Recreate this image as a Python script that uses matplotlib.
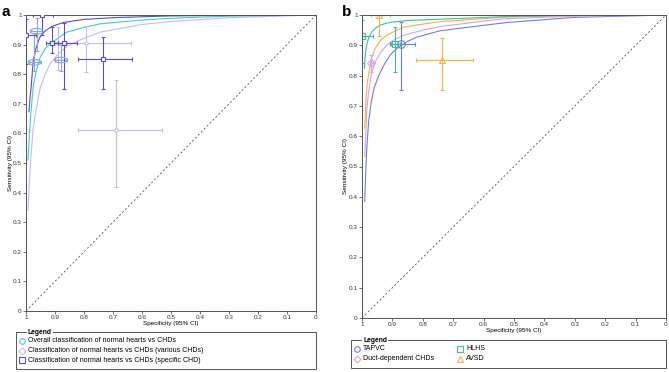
import matplotlib
matplotlib.use('Agg')
import matplotlib.pyplot as plt
from matplotlib.patches import Ellipse, Rectangle
from matplotlib.lines import Line2D

plt.rcParams['font.family'] = ['Liberation Sans', 'DejaVu Sans']

W, H = 669, 372

# ---- panel a: summary curves (specificity, sensitivity)
overall_curve_spec = [0.993, 0.988, 0.984, 0.975, 0.965, 0.952, 0.935, 0.915, 0.885, 0.86,
                      0.80, 0.745, 0.60, 0.50, 0.30, 0.0]
overall_curve_sens = [0.51, 0.60, 0.66, 0.76, 0.81, 0.855, 0.885, 0.905, 0.925, 0.942,
                      0.958, 0.970, 0.983, 0.989, 0.996, 1.0]

various_curve_spec = [0.993, 0.988, 0.984, 0.975, 0.967, 0.952, 0.938, 0.917, 0.892, 0.86,
                      0.823, 0.745, 0.60, 0.50, 0.30, 0.0]
various_curve_sens = [0.34, 0.44, 0.51, 0.62, 0.67, 0.75, 0.79, 0.835, 0.865, 0.893,
                      0.912, 0.942, 0.968, 0.978, 0.991, 1.0]

specific_curve_spec = [0.990, 0.986, 0.982, 0.975, 0.965, 0.952, 0.935, 0.91, 0.87, 0.80,
                       0.70, 0.50, 0.25, 0.0]
specific_curve_sens = [0.673, 0.72, 0.76, 0.845, 0.89, 0.925, 0.945, 0.962, 0.975, 0.985,
                       0.991, 0.997, 0.999, 1.0]

# study points: spec, sens, spec CI (high, low), sens CI (high, low)
overall_spec = [0.963, 0.971, 0.880]
overall_sens = [0.945, 0.840, 0.848]
overall_spec_ci = [(0.985, 0.945), (0.99, 0.95), (0.90, 0.86)]
overall_sens_ci = [(0.99, 0.88), (0.94, 0.81), (0.90, 0.81)]

various_spec = [0.793, 0.690, 0.891]
various_sens = [0.906, 0.611, 0.905]
various_spec_ci = [(0.90, 0.639), (0.822, 0.532), (0.92, 0.86)]
various_sens_ci = [(0.963, 0.808), (0.780, 0.419), (0.96, 0.814)]

specific_spec = [1.0, 0.944, 0.911, 0.869, 0.734]
specific_sens = [0.932, 1.0, 0.904, 0.904, 0.851]
specific_spec_ci = [(1.0, 0.966), (0.975, 0.906), (0.93, 0.89), (0.91, 0.823), (0.820, 0.636)]
specific_sens_ci = [(0.985, 0.836), (1.0, 0.932), (0.96, 0.87), (0.972, 0.749), (0.925, 0.750)]

# ---- panel b curves
tapvc_curve_spec = [0.991, 0.987, 0.984, 0.978, 0.970, 0.960, 0.945, 0.925, 0.907, 0.886,
                    0.852, 0.82, 0.743, 0.60, 0.524, 0.304, 0.0]
tapvc_curve_sens = [0.385, 0.50, 0.566, 0.65, 0.71, 0.76, 0.80, 0.84, 0.868, 0.889,
                    0.912, 0.927, 0.948, 0.966, 0.975, 0.992, 1.0]

duct_curve_spec = [0.991, 0.987, 0.984, 0.979, 0.970, 0.957, 0.940, 0.919, 0.895, 0.864,
                   0.80, 0.743, 0.60, 0.524, 0.30, 0.0]
duct_curve_sens = [0.533, 0.62, 0.69, 0.74, 0.80, 0.845, 0.875, 0.900, 0.918, 0.933,
                   0.950, 0.962, 0.980, 0.988, 0.996, 1.0]

avsd_curve_spec = [0.991, 0.987, 0.983, 0.979, 0.970, 0.957, 0.940, 0.919, 0.890, 0.864,
                   0.80, 0.743, 0.60, 0.524, 0.30, 0.0]
avsd_curve_sens = [0.626, 0.72, 0.77, 0.80, 0.853, 0.889, 0.915, 0.933, 0.948, 0.960,
                   0.970, 0.978, 0.988, 0.993, 0.998, 1.0]

hlhs_curve_spec = [0.992, 0.989, 0.985, 0.978, 0.968, 0.955, 0.941, 0.92, 0.897, 0.85,
                   0.743, 0.524, 0.30, 0.0]
hlhs_curve_sens = [0.824, 0.87, 0.900, 0.925, 0.944, 0.957, 0.966, 0.973, 0.977, 0.982,
                   0.986, 0.995, 0.999, 1.0]

tapvc_spec = [0.871]
tapvc_sens = [0.903]
tapvc_spec_ci = [(0.907, 0.825)]
tapvc_sens_ci = [(0.978, 0.751)]

duct_spec = [0.970]
duct_sens = [0.841]
duct_spec_ci = [(0.975, 0.965)]
duct_sens_ci = [(0.868, 0.813)]

hlhs_spec = [1.0, 0.890]
hlhs_sens = [0.930, 0.903]
hlhs_spec_ci = [(1.0, 0.965), (0.905, 0.875)]
hlhs_sens_ci = [(0.985, 0.84), (0.962, 0.813)]

avsd_spec = [0.943, 0.737]
avsd_sens = [1.0, 0.852]
avsd_spec_ci = [(0.969, 0.907), (0.821, 0.635)]
avsd_sens_ci = [(1.0, 0.93), (0.923, 0.751)]

c_overall = '#3fd0c4'
c_various = '#c9b8f2'
c_specific = '#5b4cc8'
c_ell = '#8aa8e2'
c_tapvc = '#6f80dc'
c_duct = '#d7a3ea'
c_hlhs = '#3cbf9c'
c_avsd = '#f6b24c'

fs = 4.6


def px_axes(fig, l, t, r, b):
    return fig.add_axes([l / W, 1 - b / H, (r - l) / W, (b - t) / H])


def style(ax):
    ax.set_xlim(1, 0)
    ax.set_ylim(0, 1)
    ticks = [i / 10 for i in range(11)]
    lbl = ['0'] + ['0.%d' % i for i in range(1, 10)] + ['1']
    ax.set_xticks(ticks)
    ax.set_xticklabels(lbl)
    ax.set_yticks(ticks)
    ax.set_yticklabels(lbl)
    ax.tick_params(labelsize=fs, length=2, width=0.5, pad=1, colors='#333333')
    for s in ax.spines.values():
        s.set_linewidth(0.7)
        s.set_color('#555555')
    ax.plot([1, 0], [0, 1], ls=(0, (2.5, 2.5)), color='#555555', lw=0.6)
    ax.set_xlabel('Specificity (95% CI)', fontsize=fs, labelpad=0.5)
    ax.set_ylabel('Sensitivity (95% CI)', fontsize=fs, labelpad=1)
    ax.yaxis.set_label_coords(-0.045, 0.5)


def err(ax, spec, sens, spec_ci, sens_ci, color, lw=0.8, **kw):
    # x axis is reversed: the high end of the spec CI sits on the left
    xlo = [abs(s - c[1]) for s, c in zip(spec, spec_ci)]
    xhi = [abs(c[0] - s) for s, c in zip(spec, spec_ci)]
    ylo = [abs(s - c[1]) for s, c in zip(sens, sens_ci)]
    yhi = [abs(c[0] - s) for s, c in zip(sens, sens_ci)]
    ax.errorbar(spec, sens, xerr=[xlo, xhi], yerr=[ylo, yhi], fmt='none', ecolor=color,
                elinewidth=lw, capsize=1.2, capthick=lw)
    if kw:
        ax.plot(spec, sens, ls='none', color=color, **kw)


fig = plt.figure(figsize=(W / 100, H / 100), dpi=100)

# ---------------- panel a
ax = px_axes(fig, 26, 15, 316, 311)
style(ax)
ax.plot(various_curve_spec, various_curve_sens, color=c_various, lw=0.8)
ax.plot(overall_curve_spec, overall_curve_sens, color=c_overall, lw=0.8)
ax.plot(specific_curve_spec, specific_curve_sens, color=c_specific, lw=0.8)

err(ax, various_spec, various_sens, various_spec_ci, various_sens_ci, c_various,
    marker='o', ms=2.5, mfc='white', mew=0.7)
err(ax, overall_spec, overall_sens, overall_spec_ci, overall_sens_ci, c_ell)
for s, v in zip(overall_spec, overall_sens):
    ax.add_patch(Ellipse((s, v), 0.044, 0.019, fill=False, ec=c_ell, lw=0.8, zorder=4))
err(ax, specific_spec, specific_sens, specific_spec_ci, specific_sens_ci, c_specific,
    marker='s', ms=3, mfc='white', mew=0.8, zorder=5)

# ---------------- panel b
bx = px_axes(fig, 362, 15, 666, 318)
style(bx)
bx.plot(tapvc_curve_spec, tapvc_curve_sens, color=c_tapvc, lw=0.8)
bx.plot(duct_curve_spec, duct_curve_sens, color=c_duct, lw=0.8)
bx.plot(avsd_curve_spec, avsd_curve_sens, color=c_avsd, lw=0.8)
bx.plot(hlhs_curve_spec, hlhs_curve_sens, color=c_hlhs, lw=0.8)
err(bx, tapvc_spec, tapvc_sens, tapvc_spec_ci, tapvc_sens_ci, c_tapvc,
    marker='o', ms=5.5, mfc='none', mew=0.8)
err(bx, duct_spec, duct_sens, duct_spec_ci, duct_sens_ci, c_duct,
    marker='D', ms=4.5, mfc='none', mew=0.8)
err(bx, hlhs_spec, hlhs_sens, hlhs_spec_ci, hlhs_sens_ci, c_hlhs,
    marker='s', ms=5, mfc='none', mew=0.8)
err(bx, avsd_spec, avsd_sens, avsd_spec_ci, avsd_sens_ci, c_avsd,
    marker='^', ms=5, mfc='none', mew=0.8)

# panel letters
fig.text(2 / W, 1 - 16 / H, 'a', fontsize=11, fontweight='bold')
fig.text(342 / W, 1 - 16 / H, 'b', fontsize=11, fontweight='bold')


# ---------------- legends (drawn by hand, title sits on the frame)
def fx(p):
    return p / W


def fy(p):
    return 1 - p / H


def legend_box(l, t, r, b, title_x, entries):
    fig.add_artist(Rectangle((fx(l), fy(b)), fx(r) - fx(l), fy(t) - fy(b),
                             transform=fig.transFigure, fill=False, ec='#555555', lw=0.7))
    fig.text(fx(title_x), fy(t), 'Legend', fontsize=fs + 0.3, fontweight='bold',
             ha='left', va='center', bbox=dict(fc='white', ec='none', pad=0.6))
    for mx, my, mk, col, ms, txt in entries:
        fig.add_artist(Line2D([fx(mx)], [fy(my)], marker=mk, color=col, ms=ms, mfc='none',
                              mew=0.8, transform=fig.transFigure))
        fig.text(fx(mx + 6), fy(my), txt, fontsize=fs + 0.4, va='center', ha='left')


legend_box(16, 332, 316, 369, 28, [
    (22, 341, 'o', c_overall, 4, 'Overall classification of normal hearts vs CHDs'),
    (22, 350.5, 'D', c_various, 3.5, 'Classification of normal hearts vs CHDs (various CHDs)'),
    (22, 360, 's', c_specific, 4, 'Classification of normal hearts vs CHDs (specific CHD)'),
])
legend_box(351, 340, 666, 368, 363, [
    (357, 349, 'o', c_tapvc, 4, 'TAPVC'),
    (357, 359, 'D', c_duct, 3.5, 'Duct-dependent CHDs'),
    (460, 349, 's', c_hlhs, 4, 'HLHS'),
    (460, 359, '^', c_avsd, 4, 'AVSD'),
])

fig.savefig('out.png', dpi=100)
